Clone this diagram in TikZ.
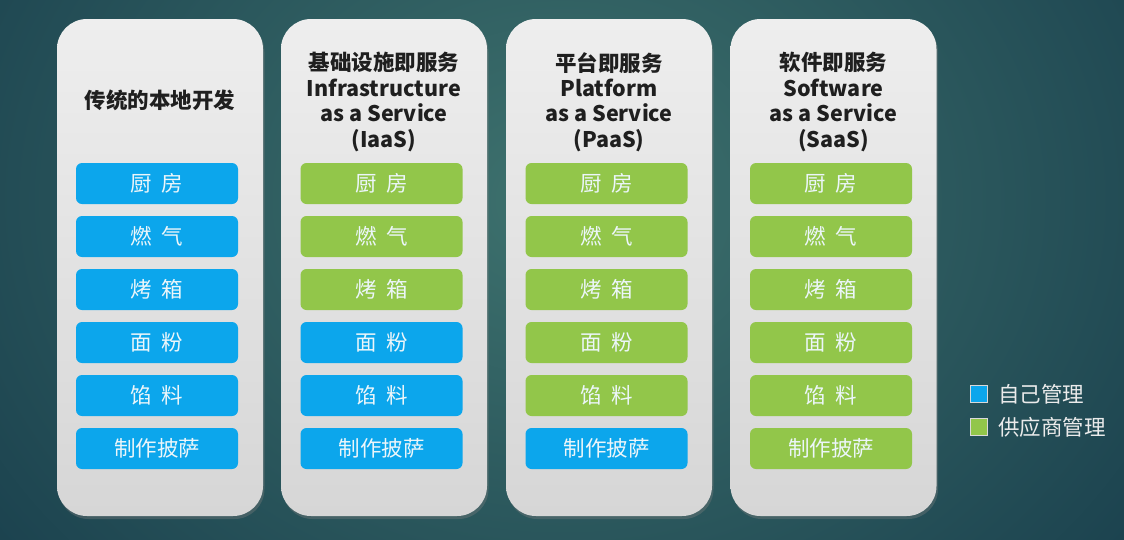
\documentclass[tikz,border=0pt]{standalone}
\usepackage{fontspec}
\setmainfont{Noto Sans CJK SC}
\usetikzlibrary{shadows}
\definecolor{selfblue}{RGB}{12,166,236}
\definecolor{vendgreen}{RGB}{146,198,74}
\definecolor{bgin}{RGB}{62,114,110}
\definecolor{bgout}{RGB}{20,56,72}
\definecolor{cardtop}{RGB}{238,238,238}
\definecolor{cardbot}{RGB}{214,214,214}
\definecolor{bartext}{RGB}{236,246,250}
\newcommand{\gp}{\hspace{0.45em}}
\tikzset{
  card/.style={rounded corners=30pt, minimum width=206pt, minimum height=497pt,
    top color=cardtop, bottom color=cardbot, draw=none,
    drop shadow={opacity=0.35, shadow xshift=1.5pt, shadow yshift=-3pt}},
  barbox/.style={rounded corners=6pt, minimum width=162pt, minimum height=41pt,
    inner sep=0pt, text=bartext, font=\fontsize{21.5}{24}\selectfont},
  selfbar/.style={barbox, fill=selfblue},
  vendbar/.style={barbox, fill=vendgreen},
  header/.style={align=center, font=\bfseries\fontsize{21.5}{25.4}\selectfont, text=black!88},
  legsq/.style={minimum size=17pt, inner sep=0pt, draw=white!85!black, line width=0.8pt},
  legtext/.style={anchor=west, text=white!92!black, font=\fontsize{21.5}{24}\selectfont, inner sep=0pt}
}
\begin{document}
\begin{tikzpicture}[x=1pt,y=-1pt]
\useasboundingbox (0,0) rectangle (1124,539);
\shade[inner color=bgin, outer color=bgout] (-300,-500) rectangle (1424,900);
% cards
\node[card] (c1) at (160,267.5) {};
\node[card] (c2) at (384,267.5) {};
\node[card] (c3) at (609,267.5) {};
\node[card] (c4) at (833.5,267.5) {};
% headers
\node[header] (h1) at (160,100) {传统的本地开发};
\node[header] (h2) at (384,102) {基础设施即服务\\Infrastructure\\as a Service\\(IaaS)};
\node[header] (h3) at (609,102) {平台即服务\\Platform\\as a Service\\(PaaS)};
\node[header] (h4) at (833.5,102) {软件即服务\\Software\\as a Service\\(SaaS)};
% column 1
\node[selfbar] (a1) at (157,183.5) {厨\gp 房};
\node[selfbar] (a2) at (157,236.5) {燃\gp 气};
\node[selfbar] (a3) at (157,289.5) {烤\gp 箱};
\node[selfbar] (a4) at (157,342.5) {面\gp 粉};
\node[selfbar] (a5) at (157,395.5) {馅\gp 料};
\node[selfbar] (a6) at (157,448.5) {制作披萨};
% column 2
\node[vendbar] (b1) at (381.5,183.5) {厨\gp 房};
\node[vendbar] (b2) at (381.5,236.5) {燃\gp 气};
\node[vendbar] (b3) at (381.5,289.5) {烤\gp 箱};
\node[selfbar] (b4) at (381.5,342.5) {面\gp 粉};
\node[selfbar] (b5) at (381.5,395.5) {馅\gp 料};
\node[selfbar] (b6) at (381.5,448.5) {制作披萨};
% column 3
\node[vendbar] (d1) at (606.5,183.5) {厨\gp 房};
\node[vendbar] (d2) at (606.5,236.5) {燃\gp 气};
\node[vendbar] (d3) at (606.5,289.5) {烤\gp 箱};
\node[vendbar] (d4) at (606.5,342.5) {面\gp 粉};
\node[vendbar] (d5) at (606.5,395.5) {馅\gp 料};
\node[selfbar] (d6) at (606.5,448.5) {制作披萨};
% column 4
\node[vendbar] (e1) at (831,183.5) {厨\gp 房};
\node[vendbar] (e2) at (831,236.5) {燃\gp 气};
\node[vendbar] (e3) at (831,289.5) {烤\gp 箱};
\node[vendbar] (e4) at (831,342.5) {面\gp 粉};
\node[vendbar] (e5) at (831,395.5) {馅\gp 料};
\node[vendbar] (e6) at (831,448.5) {制作披萨};
% legend
\node[legsq, fill=selfblue] (ls1) at (979,394) {};
\node[legsq, fill=vendgreen] (ls2) at (979,427) {};
\node[legtext] (lt1) at (998,394) {自己管理};
\node[legtext] (lt2) at (998,427) {供应商管理};
\end{tikzpicture}
\end{document}
